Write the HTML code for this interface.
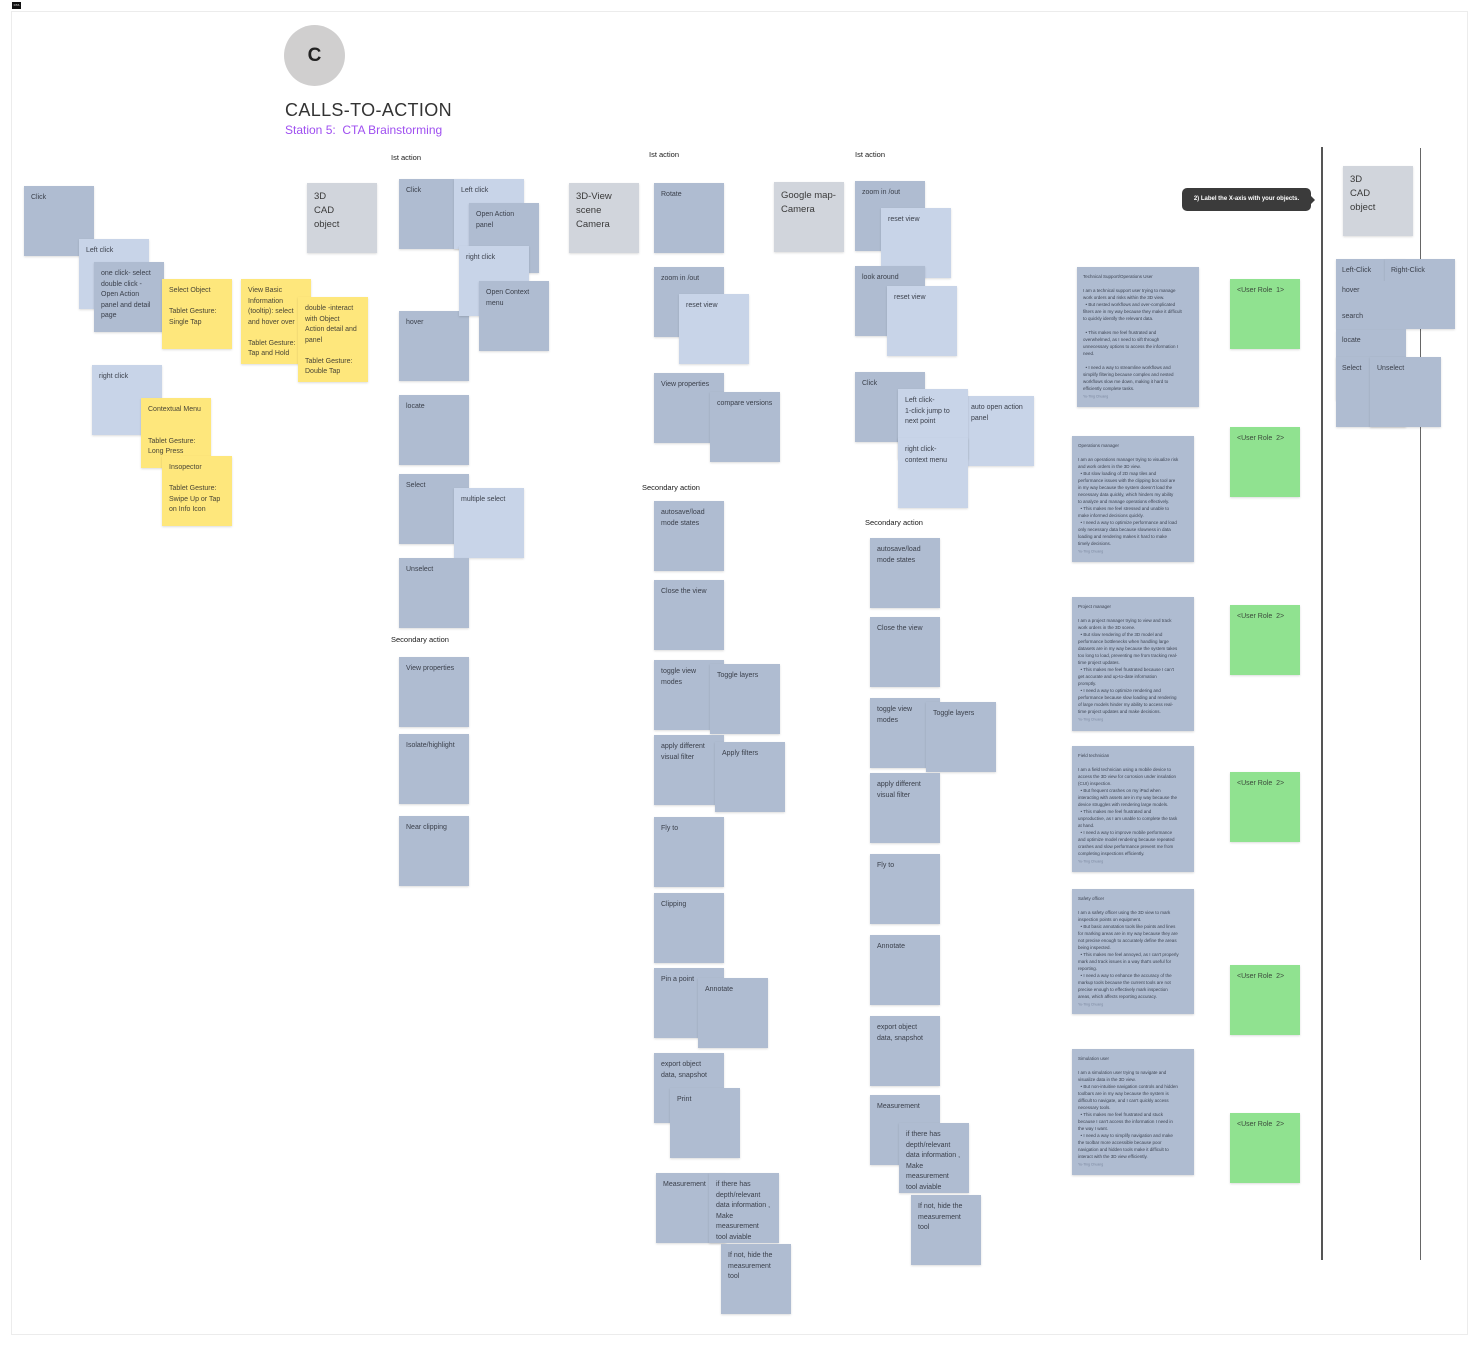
<!DOCTYPE html>
<html><head><meta charset="utf-8">
<style>
html,body{margin:0;padding:0;background:#fff;}
body{width:1480px;height:1347px;position:relative;overflow:hidden;font-family:"Liberation Sans",sans-serif;}
.frame{position:absolute;left:11px;top:11px;width:1457px;height:1324px;border:1px solid #ececec;box-sizing:border-box;}
.s{position:absolute;width:70px;height:70px;box-sizing:border-box;padding:7px 6px 0 7px;font:7px/10.5px "Liberation Sans",sans-serif;color:#3a3f4a;box-shadow:0 1px 2px rgba(0,0,0,.14);white-space:nowrap;}
.d{background:#afbcd1;}
.l{background:#c8d4e8;}
.y{background:#fee77c;color:#4a4636;}
.g{background:#d1d5dc;font-size:9.5px;line-height:14px;color:#3a3a3a;padding:6.5px 6px 0 7px;}
.gr{background:#90e290;color:#3b4a3b;font-size:7px;}
.lab{position:absolute;font:7.5px/10px "Liberation Sans",sans-serif;color:#1a1a1a;white-space:nowrap;}
.p{position:absolute;left:1072px;width:122px;background:#afbcd1;box-shadow:0 1px 2px rgba(0,0,0,.16);overflow:hidden;}
.pt{position:absolute;left:6px;top:5.5px;width:240px;transform:scale(.5);transform-origin:0 0;font:9px/14px "Liberation Sans",sans-serif;color:#3d4452;white-space:nowrap;}
.pt .sig{display:block;margin-top:6px;font-size:7px;line-height:8px;color:#7a879e;}
.t{position:absolute;font:7px/10px "Liberation Sans",sans-serif;color:#3a3f4a;white-space:nowrap;}
.vl{position:absolute;}
</style></head>
<body>
<div class="frame"></div>
<div style="position:absolute;left:12px;top:2px;width:9px;height:7px;background:#111;color:#fff;font:3px/7px 'Liberation Sans',sans-serif;text-align:center;">CTA</div>

<!-- Header -->
<div style="position:absolute;left:284px;top:25px;width:61px;height:61px;border-radius:50%;background:#d0cfcf;"></div>
<div style="position:absolute;left:284px;top:25px;width:61px;height:61px;font:bold 19px/61px 'Liberation Sans',sans-serif;color:#222;text-align:center;">C</div>
<div style="position:absolute;left:285px;top:101px;font:18px/18px 'Liberation Sans',sans-serif;color:#333;white-space:nowrap;letter-spacing:0.35px;">CALLS-TO-ACTION</div>
<div style="position:absolute;left:285px;top:123px;font:12px/14px 'Liberation Sans',sans-serif;color:#9f4ff0;white-space:nowrap;">Station 5:&nbsp; CTA Brainstorming</div>

<!-- Column 1 -->
<div class="s d" style="left:24px;top:186px;">Click</div>
<div class="s l" style="left:79px;top:239px;">Left click</div>
<div class="s d" style="left:94px;top:262px;">one click- select<br>double click -<br>Open Action<br>panel and detail<br>page</div>
<div class="s y" style="left:162px;top:279px;">Select Object<br><br>Tablet Gesture:<br>Single Tap</div>
<div class="s y" style="left:241px;top:279px;height:85px;">View Basic<br>Information<br>(tooltip): select<br>and hover over<br><br>Tablet Gesture:<br>Tap and Hold</div>
<div class="s y" style="left:298px;top:297px;height:85px;">double -interact<br>with Object<br>Action detail and<br>panel<br><br>Tablet Gesture:<br>Double Tap</div>
<div class="s l" style="left:92px;top:365px;">right click</div>
<div class="s y" style="left:141px;top:398px;">Contextual Menu<br><br><br>Tablet Gesture:<br>Long Press</div>
<div class="s y" style="left:162px;top:456px;">Insopector<br><br>Tablet Gesture:<br>Swipe Up or Tap<br>on Info Icon</div>
<div class="s g" style="left:307px;top:183px;">3D<br>CAD<br>object</div>

<!-- Column 2 -->
<div class="lab" style="left:391px;top:153px;">Ist action</div>
<div class="s d" style="left:399px;top:179px;">Click</div>
<div class="s l" style="left:454px;top:179px;">Left click</div>
<div class="s d" style="left:469px;top:203px;">Open Action<br>panel</div>
<div class="s d" style="left:399px;top:311px;">hover</div>
<div class="s l" style="left:459px;top:246px;">right click</div>
<div class="s d" style="left:479px;top:281px;">Open Context<br>menu</div>
<div class="s d" style="left:399px;top:395px;">locate</div>
<div class="s d" style="left:399px;top:474px;">Select</div>
<div class="s l" style="left:454px;top:488px;">multiple select</div>
<div class="s d" style="left:399px;top:558px;">Unselect</div>
<div class="lab" style="left:391px;top:635px;">Secondary action</div>
<div class="s d" style="left:399px;top:657px;">View properties</div>
<div class="s d" style="left:399px;top:734px;">Isolate/highlight</div>
<div class="s d" style="left:399px;top:816px;">Near clipping</div>

<!-- Column 3 -->
<div class="s g" style="left:569px;top:183px;">3D-View<br>scene<br>Camera</div>
<div class="lab" style="left:649px;top:150px;">Ist action</div>
<div class="s d" style="left:654px;top:183px;">Rotate</div>
<div class="s g" style="left:774px;top:182px;">Google map-<br>Camera</div>
<div class="s d" style="left:654px;top:267px;">zoom in /out</div>
<div class="s l" style="left:679px;top:294px;">reset view</div>
<div class="s d" style="left:654px;top:373px;">View properties</div>
<div class="s d" style="left:710px;top:392px;">compare versions</div>
<div class="lab" style="left:642px;top:483px;">Secondary action</div>
<div class="s d" style="left:654px;top:501px;">autosave/load<br>mode states</div>
<div class="s d" style="left:654px;top:580px;">Close the view</div>
<div class="s d" style="left:654px;top:660px;">toggle view<br>modes</div>
<div class="s d" style="left:710px;top:664px;">Toggle layers</div>
<div class="s d" style="left:654px;top:735px;">apply different<br>visual filter</div>
<div class="s d" style="left:715px;top:742px;">Apply filters</div>
<div class="s d" style="left:654px;top:817px;">Fly to</div>
<div class="s d" style="left:654px;top:893px;">Clipping</div>
<div class="s d" style="left:654px;top:968px;">Pin a point</div>
<div class="s d" style="left:698px;top:978px;">Annotate</div>
<div class="s d" style="left:654px;top:1053px;">export object<br>data, snapshot</div>
<div class="s d" style="left:670px;top:1088px;">Print</div>
<div class="s d" style="left:656px;top:1173px;">Measurement</div>
<div class="s d" style="left:709px;top:1173px;">if there has<br>depth/relevant<br>data information ,<br>Make<br>measurement<br>tool aviable</div>
<div class="s d" style="left:721px;top:1244px;">If not, hide the<br>measurement<br>tool</div>

<!-- Column 4 -->
<div class="lab" style="left:855px;top:150px;">Ist action</div>
<div class="s d" style="left:855px;top:181px;">zoom in /out</div>
<div class="s l" style="left:881px;top:208px;">reset view</div>
<div class="s d" style="left:855px;top:266px;">look around</div>
<div class="s l" style="left:887px;top:286px;">reset view</div>
<div class="s d" style="left:855px;top:372px;">Click</div>
<div class="s l" style="left:964px;top:396px;">auto open action<br>panel</div>
<div class="s l" style="left:898px;top:389px;">Left click-<br>1-click jump to<br>next point</div>
<div class="s l" style="left:898px;top:438px;">right click-<br>context menu</div>
<div class="lab" style="left:865px;top:518px;">Secondary action</div>
<div class="s d" style="left:870px;top:538px;">autosave/load<br>mode states</div>
<div class="s d" style="left:870px;top:617px;">Close the view</div>
<div class="s d" style="left:870px;top:698px;">toggle view<br>modes</div>
<div class="s d" style="left:926px;top:702px;">Toggle layers</div>
<div class="s d" style="left:870px;top:773px;">apply different<br>visual filter</div>
<div class="s d" style="left:870px;top:854px;">Fly to</div>
<div class="s d" style="left:870px;top:935px;">Annotate</div>
<div class="s d" style="left:870px;top:1016px;">export object<br>data, snapshot</div>
<div class="s d" style="left:870px;top:1095px;">Measurement</div>
<div class="s d" style="left:899px;top:1123px;">if there has<br>depth/relevant<br>data information ,<br>Make<br>measurement<br>tool aviable</div>
<div class="s d" style="left:911px;top:1195px;">If not, hide the<br>measurement<br>tool</div>

<!-- Tooltip -->
<div style="position:absolute;left:1182px;top:188px;width:129px;height:23px;background:#3b3b3b;border-radius:5px;color:#fff;font:bold 6px/23px 'Liberation Sans',sans-serif;text-align:center;white-space:nowrap;">2) Label the X-axis with your objects.</div>
<div style="position:absolute;left:1311px;top:196px;width:0;height:0;border-top:4px solid transparent;border-bottom:4px solid transparent;border-left:4px solid #3b3b3b;"></div>

<!-- Persona cards -->
<div class="p" style="left:1077px;top:267px;height:140px;"><div class="pt">Technical Support/Operations User<br><br>I am a technical support user trying to manage<br>work orders and risks within the 3D view.<br>&nbsp; • But nested workflows and over-complicated<br>filters are in my way because they make it difficult<br>to quickly identify the relevant data.<br><br>&nbsp; • This makes me feel frustrated and<br>overwhelmed, as I need to sift through<br>unnecessary options to access the information I<br>need.<br><br>&nbsp; • I need a way to streamline workflows and<br>simplify filtering because complex and nested<br>workflows slow me down, making it hard to<br>efficiently complete tasks.<span class="sig">Yu-Ting Chuang</span></div></div>

<div class="p" style="top:436px;height:126px;"><div class="pt">Operations manager<br><br>I am an operations manager trying to visualize risk<br>and work orders in the 3D view.<br>&nbsp; • But slow loading of 2D map tiles and<br>performance issues with the clipping box tool are<br>in my way because the system doesn't load the<br>necessary data quickly, which hinders my ability<br>to analyze and manage operations effectively.<br>&nbsp; • This makes me feel stressed and unable to<br>make informed decisions quickly.<br>&nbsp; • I need a way to optimize performance and load<br>only necessary data because slowness in data<br>loading and rendering makes it hard to make<br>timely decisions.<span class="sig">Yu-Ting Chuang</span></div></div>

<div class="p" style="top:597px;height:134px;"><div class="pt">Project manager<br><br>I am a project manager trying to view and track<br>work orders in the 3D scene.<br>&nbsp; • But slow rendering of the 3D model and<br>performance bottlenecks when handling large<br>datasets are in my way because the system takes<br>too long to load, preventing me from tracking real-<br>time project updates.<br>&nbsp; • This makes me feel frustrated because I can't<br>get accurate and up-to-date information<br>promptly.<br>&nbsp; • I need a way to optimize rendering and<br>performance because slow loading and rendering<br>of large models hinder my ability to access real-<br>time project updates and make decisions.<span class="sig">Yu-Ting Chuang</span></div></div>

<div class="p" style="top:746px;height:126px;"><div class="pt">Field technician<br><br>I am a field technician using a mobile device to<br>access the 3D view for corrosion under insulation<br>(CUI) inspection.<br>&nbsp; • But frequent crashes on my iPad when<br>interacting with assets are in my way because the<br>device struggles with rendering large models.<br>&nbsp; • This makes me feel frustrated and<br>unproductive, as I am unable to complete the task<br>at hand.<br>&nbsp; • I need a way to improve mobile performance<br>and optimize model rendering because repeated<br>crashes and slow performance prevent me from<br>completing inspections efficiently.<span class="sig">Yu-Ting Chuang</span></div></div>

<div class="p" style="top:889px;height:125px;"><div class="pt">Safety officer<br><br>I am a safety officer using the 3D view to mark<br>inspection points on equipment.<br>&nbsp; • But basic annotation tools like points and lines<br>for marking areas are in my way because they are<br>not precise enough to accurately define the areas<br>being inspected.<br>&nbsp; • This makes me feel annoyed, as I can't properly<br>mark and track issues in a way that's useful for<br>reporting.<br>&nbsp; • I need a way to enhance the accuracy of the<br>markup tools because the current tools are not<br>precise enough to effectively mark inspection<br>areas, which affects reporting accuracy.<span class="sig">Yu-Ting Chuang</span></div></div>

<div class="p" style="top:1049px;height:126px;"><div class="pt">Simulation user<br><br>I am a simulation user trying to navigate and<br>visualize data in the 3D view.<br>&nbsp; • But non-intuitive navigation controls and hidden<br>toolbars are in my way because the system is<br>difficult to navigate, and I can't quickly access<br>necessary tools.<br>&nbsp; • This makes me feel frustrated and stuck<br>because I can't access the information I need in<br>the way I want.<br>&nbsp; • I need a way to simplify navigation and make<br>the toolbar more accessible because poor<br>navigation and hidden tools make it difficult to<br>interact with the 3D view efficiently.<span class="sig">Yu-Ting Chuang</span></div></div>

<!-- Green role stickies -->
<div class="s gr" style="left:1230px;top:279px;">&lt;User Role&nbsp; 1&gt;</div>
<div class="s gr" style="left:1230px;top:427px;">&lt;User Role&nbsp; 2&gt;</div>
<div class="s gr" style="left:1230px;top:605px;">&lt;User Role&nbsp; 2&gt;</div>
<div class="s gr" style="left:1230px;top:772px;">&lt;User Role&nbsp; 2&gt;</div>
<div class="s gr" style="left:1230px;top:965px;">&lt;User Role&nbsp; 2&gt;</div>
<div class="s gr" style="left:1230px;top:1113px;">&lt;User Role&nbsp; 2&gt;</div>

<!-- Vertical lines -->
<div class="vl" style="left:1321px;top:147px;width:2px;height:1113px;background:#555;"></div>
<div class="vl" style="left:1420px;top:148px;width:1px;height:1112px;background:#666;"></div>

<!-- Far right cluster -->
<div class="s g" style="left:1343px;top:166px;">3D<br>CAD<br>object</div>
<div class="s d" style="left:1336px;top:259px;"></div>
<div class="s d" style="left:1385px;top:259px;"></div>
<div class="s d" style="left:1336px;top:281px;box-shadow:none;"></div>
<div class="s d" style="left:1336px;top:306px;box-shadow:none;"></div>
<div class="s d" style="left:1336px;top:330px;"></div>
<div class="s d" style="left:1336px;top:357px;"></div>
<div class="s d" style="left:1370px;top:357px;width:71px;"></div>
<div class="t" style="left:1342px;top:266px;">Left-Click</div>
<div class="t" style="left:1391px;top:266px;">Right-Click</div>
<div class="t" style="left:1342px;top:286px;">hover</div>
<div class="t" style="left:1342px;top:312px;">search</div>
<div class="t" style="left:1342px;top:336px;">locate</div>
<div class="t" style="left:1342px;top:364px;">Select</div>
<div class="t" style="left:1377px;top:364px;">Unselect</div>
</body></html>
